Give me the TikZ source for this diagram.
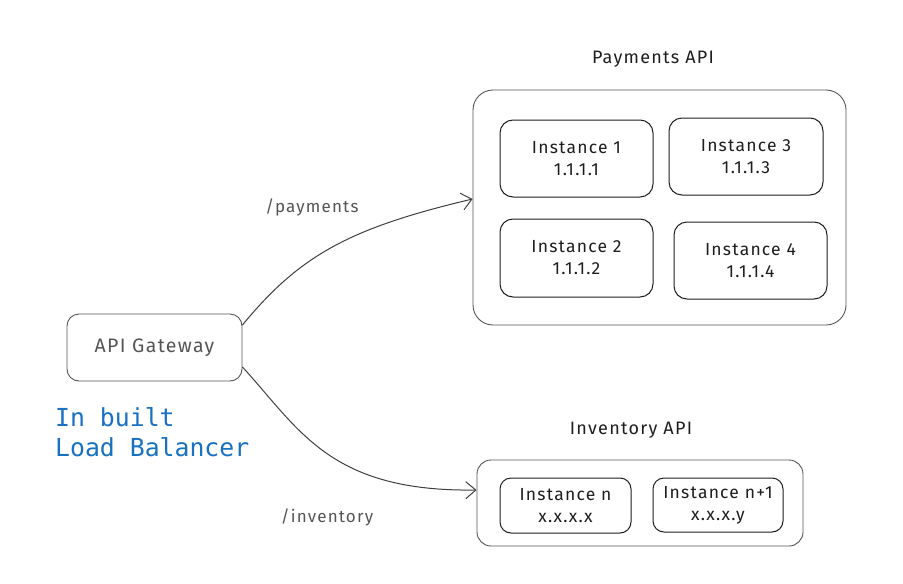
\documentclass[tikz,border=0pt]{standalone}
\usepackage{fontspec}
\setmainfont[LetterSpace=7]{Fira Sans}
\newfontfamily\monofont{DejaVu Sans Mono}
\usetikzlibrary{arrows.meta}
\definecolor{ink}{HTML}{1E1E1E}
\definecolor{gwtext}{HTML}{555555}
\definecolor{lbblue}{HTML}{1971C2}
\tikzset{
  outerbox/.style={draw=ink!75, line width=0.9pt, rounded corners=20pt, inner sep=0pt},
  instbox/.style={draw=ink, line width=1pt, rounded corners=13pt, align=center, inner sep=0pt, font=\fontsize{17.5}{22}\selectfont, text=ink},
  title/.style={font=\fontsize{18}{20}\selectfont, text=ink},
  routelabel/.style={font=\fontsize{17}{20}\selectfont, text=gwtext},
  conn/.style={draw=ink!85, line width=1pt, -{Straight Barb[length=10pt,width=17pt,line width=1pt]}}
}
\begin{document}
\begin{tikzpicture}[x=1pt,y=-1pt]
\useasboundingbox[fill=white] (0,0) rectangle (903,584);
% Payments API
\node[title] (paytitle) at (653,59) {Payments API};
\node[outerbox, minimum width=373pt, minimum height=235pt] (pay) at (659.5,207.5) {};
\node[instbox, minimum width=153pt, minimum height=77pt] (i1) at (576.5,158.5) {Instance 1\\1.1.1.1};
\node[instbox, minimum width=154pt, minimum height=77pt] (i3) at (746,156.5) {Instance 3\\1.1.1.3};
\node[instbox, minimum width=153pt, minimum height=78pt] (i2) at (576.5,258) {Instance 2\\1.1.1.2};
\node[instbox, minimum width=153pt, minimum height=77pt] (i4) at (750.5,260.5) {Instance 4\\1.1.1.4};
% Inventory API
\node[title] (invtitle) at (631,430) {Inventory API};
\node[outerbox, rounded corners=14pt, minimum width=326pt, minimum height=86pt] (inv) at (640,503) {};
\node[instbox, rounded corners=11pt, minimum width=131pt, minimum height=55pt] (in) at (565.5,505.5) {Instance n\\x.x.x.x};
\node[instbox, rounded corners=11pt, minimum width=130pt, minimum height=54pt] (in1) at (718,505) {Instance n+1\\x.x.x.y};
% Gateway
\node[draw=ink!75, line width=0.9pt, rounded corners=12pt, minimum width=175pt, minimum height=67pt, text=gwtext, font=\fontsize{19.5}{20}\selectfont] (gw) at (154.5,347.5) {API Gateway};
\node[anchor=north west, align=left, text=lbblue, font=\monofont\fontsize{24.8}{30}\selectfont, inner sep=0pt] (lb) at (55,407) {In built\\Load Balancer};
% connectors
\draw[conn] ([yshift=22.5pt]gw.east) .. controls (300,255) and (350,228) .. ([yshift=8.5pt]pay.west);
\draw[conn] ([yshift=-19.5pt]gw.east) .. controls (300,430) and (330,492) .. ([yshift=13pt]inv.west);
\node[routelabel] (plabel) at (312,207) {/payments};
\node[routelabel] (ilabel) at (327,517) {/inventory};
\end{tikzpicture}
\end{document}
